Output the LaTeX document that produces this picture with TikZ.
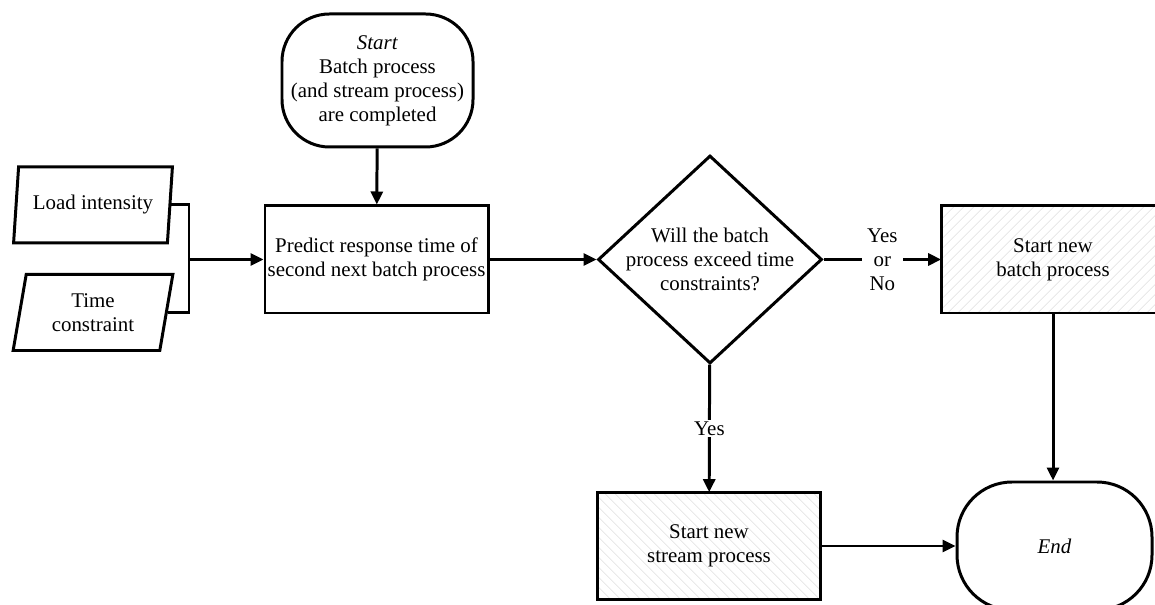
\documentclass[tikz,border=0pt]{standalone}
\usepackage{fontspec}
\setmainfont{Liberation Serif}
\usetikzlibrary{shapes.geometric,arrows.meta,patterns.meta}

\begin{document}
\begin{tikzpicture}[
  font=\fontsize{11.9}{13.6}\selectfont,
  terminal/.style={draw, line width=1.7pt, rounded corners=0.95cm, minimum width=3.82cm, minimum height=2.66cm, align=center, inner sep=0pt},
  process/.style={draw, line width=1.7pt, minimum width=4.46cm, minimum height=2.14cm, align=center, inner xsep=1pt},
  data/.style={draw, line width=1.7pt, trapezium, trapezium left angle=78, trapezium right angle=102, trapezium stretches=true, minimum width=3.2cm, minimum height=1.52cm, align=center, inner sep=0pt},
  decision/.style={draw, line width=1.7pt, diamond, minimum width=4.48cm, minimum height=4.16cm, align=center, inner sep=-8pt},
  hatched/.style={pattern={Lines[angle=#1, distance=4pt, line width=0.4pt]}, pattern color=gray!25},
  arrow/.style={-{Triangle[length=2.6mm,width=2.4mm]}, line width=1.7pt},
  link/.style={line width=1.7pt},
  lbl/.style={fill=white, inner xsep=3pt, inner ysep=1pt, align=center}
]
\useasboundingbox (0,0) rectangle (23.1,12.1);
\clip (0,0) rectangle (23.1,12.1);

\node[terminal] (start) at (7.55,10.49) {\textit{Start}\\Batch process\\(and stream process)\\are completed};
\node[process] (predict) at (7.53,6.91) {Predict response time of\\second next batch process};
\node[data] (load) at (1.86,8.0) {Load intensity};
\node[data] (time) at (1.86,5.85) {Time\\constraint};
\coordinate (join) at (3.78,6.91);
\node[decision] (check) at (14.2,6.91) {Will the batch\\process exceed time\\constraints?};
\node[process, hatched=45] (batch) at (21.06,6.91) {Start new\\batch process};
\node[process, hatched=-45] (stream) at (14.18,1.18) {Start new\\stream process};
\node[terminal, minimum width=3.9cm, minimum height=2.56cm, rounded corners=1.1cm] (end) at (21.09,1.18) {\textit{End}};

\draw[arrow] (start) -- (predict);
\draw[link] (load.east) -| (join) |- (time.east);
\draw[arrow] (join) -- (predict);
\draw[arrow] (predict) -- (check);
\draw[arrow] (check) -- node[lbl] {Yes\\or\\No} (batch);
\draw[arrow] (check) -- node[lbl, inner xsep=1pt] {Yes} (stream);
\draw[arrow] (batch) -- (batch |- end.north);
\draw[arrow] (stream) -- (end);
\end{tikzpicture}
\end{document}
